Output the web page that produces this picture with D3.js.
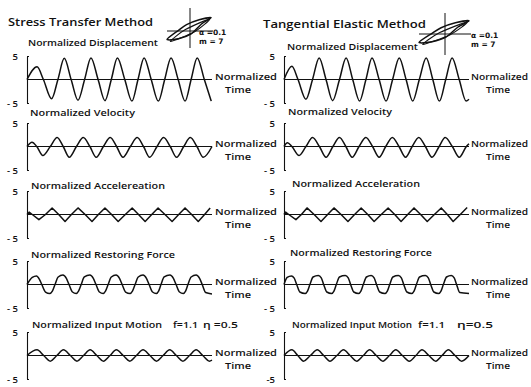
<!DOCTYPE html>
<html>
<head>
<meta charset="utf-8">
<script src="https://cdn.jsdelivr.net/npm/d3@7/dist/d3.min.js"></script>
<style>
  body { margin: 0; background: #fff; }
  svg text { font-family: "Open Sans", "DejaVu Sans", sans-serif; fill: #111; font-weight: 600; }
</style>
</head>
<body>
<svg id="chart" width="531" height="387"></svg>
<script>
// ---- data: [normalized time, value] ----
const methods = ["Stress Transfer Method", "Tangential Elastic Method"];
const titlesST = ["Normalized Displacement", "Normalized Velocity", "Normalized Accelereation", "Normalized Restoring Force", "Normalized Input Motion"];
const titlesTE = ["Normalized Displacement", "Normalized Velocity", "Normalized Acceleration", "Normalized Restoring Force", "Normalized Input Motion"];
const inputParamsST = ["f=1.1", "η =0.5"];
const inputParamsTE = ["f=1.1", "η=0.5"];
const loopParams = ["α =0.1", "m = 7"];
const yTicks = [-5, 5];
const yTickLabels = ["- 5", "5"];
const timeDomain = [0, 7];

const dispST = [[0,0],[0.38,2.7],[0.62,0],[0.93,-4.1],[1.17,0],[1.41,4.5],[1.67,0],[1.93,-4.4],[2.18,0],[2.42,4.6],[2.69,0],[2.95,-4.5],[3.19,0],[3.42,4.6],[3.70,0],[3.97,-4.6],[4.20,0],[4.43,4.6],[4.70,0],[4.97,-4.6],[5.21,0],[5.45,4.6],[5.72,0],[5.98,-4.6],[6.21,0],[6.44,4.6],[6.71,0],[6.97,-4.6]];
const velST = [[0,0],[0.19,0.9],[0.37,0],[0.60,-1.9],[0.88,0],[1.14,1.9],[1.37,0],[1.60,-2.3],[1.87,0],[2.13,1.9],[2.38,0],[2.62,-2.3],[2.89,0],[3.15,1.9],[3.39,0],[3.63,-2.3],[3.91,0],[4.17,1.9],[4.41,0],[4.64,-2.3],[4.92,0],[5.17,1.9],[5.42,0],[5.66,-2.3],[5.93,0],[6.18,1.9],[6.43,0],[6.67,-2.3],[7.0,0]];
const accST = [[0,0],[0.08,0.5],[0.2,0],[0.45,-1.1],[0.70,0],[0.95,1.4],[1.2,0],[1.44,-1.5],[1.68,0],[1.93,1.4],[2.2,0],[2.46,-1.5],[2.7,0],[2.95,1.4],[3.2,0],[3.45,-1.5],[3.72,0],[3.98,1.4],[4.22,0],[4.47,-1.5],[4.72,0],[4.96,1.4],[5.22,0],[5.49,-1.5],[5.74,0],[5.98,1.4],[6.23,0],[6.48,-1.5],[6.72,0],[6.93,1.4]];
const resST = [[0,0],[0.2,1.5],[0.36,1.8],[0.47,1.1],[0.56,0],[0.70,-1.6],[0.86,-1.9],[0.96,-1.4],[1.06,0],[1.18,1.6],[1.36,2.0],[1.49,1.3],[1.59,0],[1.72,-1.6],[1.86,-1.9],[1.95,-1.4],[2.05,0],[2.17,1.6],[2.38,2.0],[2.51,1.3],[2.61,0],[2.74,-1.6],[2.88,-1.9],[2.97,-1.4],[3.07,0],[3.19,1.6],[3.37,2.0],[3.50,1.3],[3.60,0],[3.73,-1.6],[3.90,-1.9],[3.99,-1.4],[4.09,0],[4.21,1.6],[4.39,2.0],[4.52,1.3],[4.62,0],[4.75,-1.6],[4.89,-1.9],[4.98,-1.4],[5.07,0],[5.19,1.6],[5.41,2.0],[5.54,1.3],[5.64,0],[5.77,-1.6],[5.91,-1.9],[6.00,-1.4],[6.09,0],[6.21,1.6],[6.40,2.0],[6.53,1.3],[6.63,0],[6.76,-1.7],[7.0,-2.0]];
const inST = [[0,0],[0.38,1.2],[0.63,0],[0.88,-1.2],[1.13,0],[1.38,1.2],[1.64,0],[1.89,-1.2],[2.14,0],[2.39,1.2],[2.64,0],[2.89,-1.2],[3.14,0],[3.38,1.2],[3.64,0],[3.89,-1.2],[4.14,0],[4.39,1.2],[4.65,0],[4.90,-1.2],[5.15,0],[5.40,1.2],[5.65,0],[5.90,-1.2],[6.15,0],[6.40,1.2],[6.65,0],[6.90,-1.2],[7.0,-1.0]];

const dispTE = [[0,0],[0.30,2.8],[0.53,0],[0.83,-4.2],[1.08,0],[1.33,4.6],[1.59,0],[1.84,-4.5],[2.10,0],[2.35,4.6],[2.60,0],[2.86,-4.6],[3.10,0],[3.33,4.6],[3.60,0],[3.86,-4.6],[4.11,0],[4.36,4.6],[4.62,0],[4.87,-4.6],[5.12,0],[5.38,4.6],[5.63,0],[5.88,-4.6],[6.12,0],[6.36,4.6],[6.63,0],[6.89,-4.6],[7.0,-4.2]];
const velTE = [[0,0],[0.13,0.8],[0.30,0],[0.57,-1.9],[0.83,0],[1.08,1.9],[1.34,0],[1.59,-2.3],[1.85,0],[2.10,1.9],[2.34,0],[2.58,-2.3],[2.84,0],[3.10,1.9],[3.35,0],[3.60,-2.3],[3.85,0],[4.10,1.9],[4.35,0],[4.60,-2.3],[4.85,0],[5.10,1.9],[5.35,0],[5.60,-2.3],[5.87,0],[6.10,1.9],[6.37,0],[6.63,-2.3],[6.90,0],[7.0,0.6]];
const accTE = [[0,0],[0.06,0.5],[0.18,0],[0.45,-1.1],[0.66,0],[0.87,1.4],[1.14,0],[1.40,-1.5],[1.65,0],[1.89,1.4],[2.16,0],[2.42,-1.5],[2.67,0],[2.92,1.4],[3.17,0],[3.41,-1.5],[3.68,0],[3.94,1.4],[4.19,0],[4.43,-1.5],[4.68,0],[4.92,1.4],[5.17,0],[5.42,-1.5],[5.69,0],[5.95,1.4],[6.18,0],[6.40,-1.5],[6.67,0],[6.93,1.5]];
const resTE = [[0,0],[0.12,1.5],[0.28,1.8],[0.38,1.4],[0.48,0],[0.60,-1.6],[0.80,-1.9],[0.89,-1.4],[0.98,0],[1.10,1.6],[1.30,1.9],[1.41,1.4],[1.50,0],[1.62,-1.6],[1.80,-1.9],[1.89,-1.4],[1.98,0],[2.10,1.6],[2.32,1.9],[2.43,1.4],[2.52,0],[2.64,-1.6],[2.82,-1.9],[2.91,-1.4],[3.00,0],[3.12,1.6],[3.30,1.9],[3.41,1.4],[3.50,0],[3.62,-1.6],[3.82,-1.9],[3.91,-1.4],[4.00,0],[4.12,1.6],[4.33,1.9],[4.44,1.4],[4.53,0],[4.65,-1.6],[4.83,-1.9],[4.92,-1.4],[5.01,0],[5.13,1.6],[5.35,1.9],[5.46,1.4],[5.55,0],[5.67,-1.6],[5.85,-1.9],[5.94,-1.4],[6.03,0],[6.15,1.6],[6.33,1.9],[6.44,1.4],[6.53,0],[6.65,-1.7],[7.0,-1.9]];
const inTE = [[0,0],[0.30,1.2],[0.52,0],[0.74,-1.2],[1.0,0],[1.26,1.2],[1.5,0],[1.74,-1.2],[2.0,0],[2.25,1.2],[2.5,0],[2.75,-1.2],[3.0,0],[3.24,1.2],[3.49,0],[3.74,-1.2],[3.99,0],[4.23,1.2],[4.48,0],[4.74,-1.2],[4.99,0],[5.22,1.2],[5.48,0],[5.74,-1.2],[5.98,0],[6.22,1.2],[6.47,0],[6.72,-1.2],[7.0,0]];

// hysteresis loop sketch, in icon units
const loopOuter = [[-1,-0.6],[-0.5,0.05],[-0.15,0.45],[0.4,0.8],[0.92,0.95],[0.5,0.5],[0.05,-0.2],[-0.5,-0.55]];
const loopInner = [[-0.85,-0.75],[-0.2,0.1],[0.85,0.85],[0.2,-0.05]];

// ---- layout ----
const svg = d3.select("#chart");
const rowZero = [79, 146, 214, 284, 355];
const curves = [d3.curveMonotoneX, d3.curveMonotoneX, d3.curveLinear, d3.curveMonotoneX, d3.curveMonotoneX];

const cols = [
  { method: methods[0], titles: titlesST, series: [dispST, velST, accST, resST, inST], params: inputParamsST,
    axisX: 27, titleX: 8, titleW: 145, titleY: 26,
    ptX: [28, 30, 31, 31, 32], ptW: [130, 105, 134, 144, 130], ptDy: [33, 30, 25, 26, 27],
    paramX: [173, 203], paramW: [25, 35],
    normX: 215, normW: 62, timeX: 225, timeW: 26,
    icon: { cx: 190, cy: 31, hw: 23, hh: 14, vTop: 8, vBot: 48, textX: 199 } },
  { method: methods[1], titles: titlesTE, series: [dispTE, velTE, accTE, resTE, inTE], params: inputParamsTE,
    axisX: 284, titleX: 263, titleW: 163, titleY: 28,
    ptX: [287, 288, 292, 290, 292], ptW: [131, 104, 128, 142, 120], ptDy: [29, 31, 27, 28, 27],
    paramX: [418, 457], paramW: [27, 36],
    normX: 471, normW: 57, timeX: 486, timeW: 24,
    icon: { cx: 445, cy: 34, hw: 26, hh: 14, vTop: 13, vBot: 55, textX: 471 } }
];

cols.forEach(c => {
  const x = d3.scaleLinear().domain(timeDomain).range([c.axisX, c.axisX + 185]);

  svg.append("text")
    .attr("x", c.titleX).attr("y", c.titleY)
    .attr("textLength", c.titleW).attr("lengthAdjust", "spacingAndGlyphs")
    .style("font-size", "11.5px")
    .text(c.method);

  // loop icon
  const ic = c.icon;
  const ix = d3.scaleLinear().domain([-1, 1]).range([ic.cx - ic.hw, ic.cx + ic.hw]);
  const iy = d3.scaleLinear().domain([-1, 1]).range([ic.cy + ic.hh, ic.cy - ic.hh]);
  const icon = svg.append("g").attr("fill", "none").attr("stroke", "#111");
  icon.append("line").attr("x1", ic.cx).attr("x2", ic.cx).attr("y1", ic.vTop).attr("y2", ic.vBot).attr("stroke-width", 1);
  icon.append("line").attr("x1", ix(-1)).attr("x2", ix(1)).attr("y1", iy(0)).attr("y2", iy(0)).attr("stroke-width", 1);
  const loopLine = d3.line().x(d => ix(d[0])).y(d => iy(d[1])).curve(d3.curveCardinalClosed.tension(0.2));
  icon.append("path").attr("d", loopLine(loopOuter)).attr("stroke-width", 1.5);
  icon.append("path").attr("d", loopLine(loopInner)).attr("stroke-width", 1.1);
  loopParams.forEach((t, i) => {
    svg.append("text").attr("x", ic.textX).attr("y", ic.cy + 4 + i * 9)
      .style("font-family", "DejaVu Sans, sans-serif").style("font-weight", "bold")
      .style("font-size", "7.5px").text(t);
  });

  c.series.forEach((data, r) => {
    const z = rowZero[r];
    const y = d3.scaleLinear().domain([-5, 5]).range([z + 24, z - 23]);
    const g = svg.append("g");

    const labels = (c.axisX > 100 && r === 4) ? ["-5", "5"] : yTickLabels;
    const ax = g.append("g").attr("transform", `translate(${c.axisX},0)`)
      .call(d3.axisLeft(y).tickValues(yTicks).tickFormat((d, i) => labels[i])
        .tickSizeInner(-2).tickSizeOuter(0).tickPadding(9));
    ax.select(".domain").attr("stroke", "#111").attr("stroke-width", 1.1);
    ax.selectAll(".tick line").attr("stroke", "#111");
    ax.selectAll(".tick text").style("font-size", "9.5px")
      .style("font-family", "Open Sans, DejaVu Sans, sans-serif").attr("fill", "#111");

    // zero (time) line
    g.append("line")
      .attr("x1", x(timeDomain[0])).attr("x2", x(timeDomain[1]))
      .attr("y1", y(0)).attr("y2", y(0))
      .attr("stroke", "#111").attr("stroke-width", 1.2);

    const line = d3.line().x(d => x(d[0])).y(d => y(d[1])).curve(curves[r]);
    g.append("path").attr("d", line(data))
      .attr("fill", "none").attr("stroke", "#111").attr("stroke-width", 1.5)
      .attr("stroke-linejoin", "round");

    g.append("text")
      .attr("x", c.ptX[r]).attr("y", z - c.ptDy[r])
      .attr("textLength", c.ptW[r]).attr("lengthAdjust", "spacingAndGlyphs")
      .style("font-size", "9.5px").text(c.titles[r]);

    if (r === 4) {
      c.params.forEach((p, i) => {
        g.append("text").attr("x", c.paramX[i]).attr("y", z - c.ptDy[r])
          .attr("textLength", c.paramW[i]).attr("lengthAdjust", "spacingAndGlyphs")
          .style("font-size", "9.5px").text(p);
      });
    }

    g.append("text").attr("x", c.normX).attr("y", z + 1)
      .attr("textLength", c.normW).attr("lengthAdjust", "spacingAndGlyphs")
      .style("font-size", "9px").text("Normalized");
    g.append("text").attr("x", c.timeX).attr("y", z + 14)
      .attr("textLength", c.timeW).attr("lengthAdjust", "spacingAndGlyphs")
      .style("font-size", "9px").text("Time");
  });
});
</script>
</body>
</html>
